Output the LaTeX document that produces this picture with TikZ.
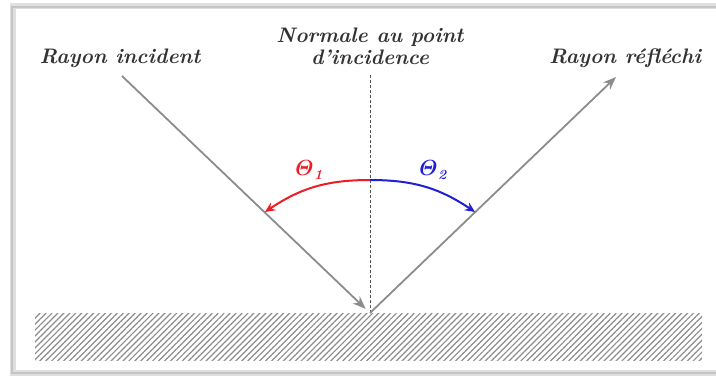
\documentclass[tikz,border=0pt]{standalone}
\usepackage{amsmath,amssymb,bm}
\usepackage{tikz}
\usetikzlibrary{arrows.meta,patterns.meta}
\definecolor{raygray}{HTML}{8C8C8C}
\definecolor{normgray}{HTML}{555555}
\definecolor{thetared}{HTML}{EE1C25}
\definecolor{thetablue}{HTML}{1F1FD6}
\definecolor{framegray}{HTML}{C4C4C4}
\newcommand{\ang}[1]{$\boldsymbol{\mathit{\Theta}_{\mathit{#1}}}$}
\tikzset{
  lbl/.style       = {font=\fontsize{10.5}{11}\selectfont\bfseries\itshape, text=black!80,
                      align=center, inner sep=0pt},
  ray/.style       = {draw=raygray, line width=0.9pt},
  rayarrow/.style  = {-{Stealth[length=6.5pt,width=5pt]}, ray, color=raygray},
  normalline/.style= {draw=normgray, line width=0.5pt, dash pattern=on 1.5pt off 1pt},
  anglearc/.style  = {-{Stealth[length=5pt,width=4.5pt]}, line width=1pt, draw=#1, color=#1},
  anglelbl/.style  = {font=\fontsize{10.5}{11}\selectfont, text=#1, inner sep=0pt},
}
\begin{document}
\begin{tikzpicture}[x=0.5pt, y=0.5pt]
  \useasboundingbox (0,0) rectangle (716,377);

  %% ---- frame and reflecting surface ----------------------------------------
  \draw[draw=framegray!55, line width=2.6pt] (716,371) -- (13,371) -- (13,4) -- (716,4);
  \draw[draw=framegray, line width=0.9pt] (716,370) -- (12,370) -- (12,4) -- (716,4);
  \fill[pattern={Lines[angle=45,distance=2.1pt,line width=0.6pt]}, pattern color=raygray]
    (35,17) rectangle (702,64);

  %% ---- points of the construction ------------------------------------------
  \coordinate (inc)     at (370,64);
  \coordinate (inStart) at (122,301);
  \coordinate (outEnd)  at (616,300);
  \coordinate (normTop) at (370,302);
  \coordinate (arcTop)  at (370,197);
  \coordinate (arcL)    at (265,165);
  \coordinate (arcR)    at (475,165);

  % normal and the two rays
  \draw[normalline] (normTop) -- (inc);
  \draw[rayarrow, shorten >=3pt] (inStart) -- (inc);
  \draw[rayarrow] (inc) -- (outEnd);

  % the two angles
  \draw[anglearc=thetared]  (arcTop) to[bend right=17] (arcL);
  \draw[anglearc=thetablue] (arcTop) to[bend left=17]  (arcR);
  \node[anglelbl=thetared]  (th1) at (309,207) {\ang{1}};
  \node[anglelbl=thetablue] (th2) at (433,207) {\ang{2}};

  % labels
  \node[lbl] (lblIn)   at (120,319) {Rayon incident};
  \node[lbl] (lblNorm) at (370,331) {Normale au point\\d'incidence};
  \node[lbl] (lblOut)  at (625,319) {Rayon réfléchi};
\end{tikzpicture}
\end{document}
